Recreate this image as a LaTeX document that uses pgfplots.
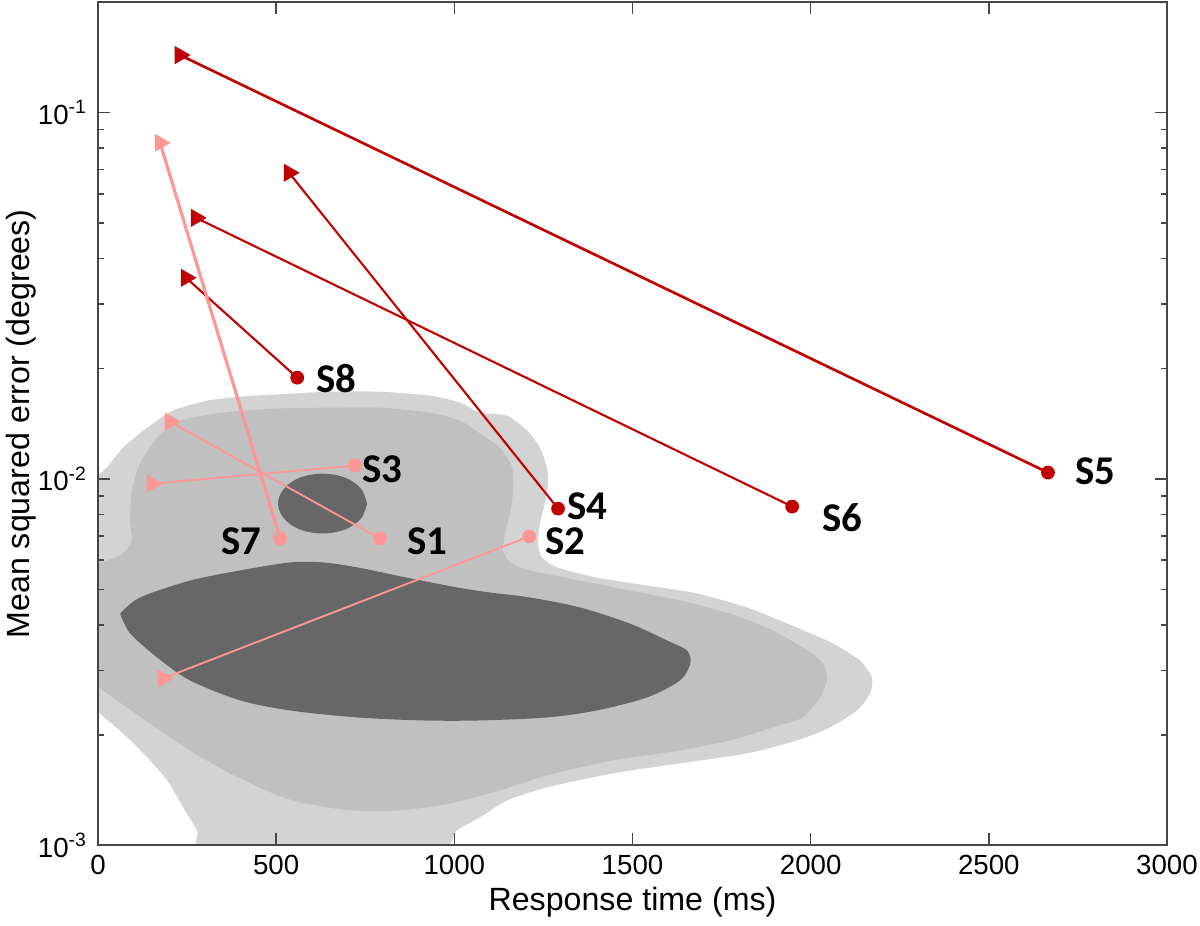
\documentclass[border=0pt]{standalone}
\usepackage{fontspec}
\setmainfont{Liberation Sans}
\newfontfamily\labelfont{Carlito}
\usepackage{pgfplots}
\pgfplotsset{compat=1.18}

\definecolor{darkred}{RGB}{192,0,0}
\definecolor{pinkred}{RGB}{255,150,150}
\definecolor{cLight}{RGB}{211,211,211}
\definecolor{cMid}{RGB}{192,192,192}
\definecolor{cDark}{RGB}{103,103,103}
\definecolor{axisgray}{RGB}{70,70,70}

\begin{document}
\begin{tikzpicture}
\begin{axis}[
    scale only axis, width=14.25cm, height=11.24cm,
    xmin=0, xmax=3000, ymode=log, ymin=1e-3, ymax=0.2,
    xtick={0,500,...,3000},
    ytick={0.001,0.01,0.1},
    yticklabels={10\textsuperscript{-3},10\textsuperscript{-2},10\textsuperscript{-1}},
    tick align=inside,
    major tick length=0.16cm, minor tick length=0.08cm,
    axis line style={axisgray, line width=0.7pt},
    every tick/.style={axisgray, line width=0.6pt},
    /pgf/number format/assume math mode=true,
    /pgf/number format/1000 sep={},
    ticklabel style={font=\fontsize{10.5}{12}\selectfont},
    yticklabel style={xshift=-0.02cm},
    xlabel={Response time (ms)}, ylabel={Mean squared error (degrees)},
    every axis x label/.style={at={(axis description cs:0.5,0)}, anchor=center, yshift=-0.76cm},
    every axis y label/.style={at={(axis description cs:0,0.5)}, xshift=-1.03cm, rotate=90, anchor=center},
    label style={font=\fontsize{12.2}{14}\selectfont},
    axis on top,
]
% density contours
\addplot[fill=cLight, draw=none, smooth, tension=0.4] coordinates {
(-20,0.00990)(25,0.01074)(70,0.01218)(138,0.01381)(210,0.01537)(306,0.01636)
(399,0.01678)(539,0.01710)(651,0.01731)(791,0.01731)(932,0.01688)(1016,0.01615)
(1072,0.01517)(1148,0.01489)(1204,0.01355)(1240,0.01218)(1260,0.01074)(1263,0.00972)
(1254,0.00857)(1240,0.00756)(1235,0.00666)(1246,0.00611)(1288,0.00574)(1400,0.00538)
(1541,0.00512)(1681,0.00487)(1821,0.00446)(1962,0.00393)(2063,0.003557)(2138,0.003197)
(2172,0.002873)(2167,0.002600)(2130,0.002335)(2054,0.002099)(1962,0.001935)(1821,0.001783)
(1633,0.001675)(1445,0.001573)(1260,0.001440)(1148,0.001327)(1072,0.001193)(1007,0.001100)
(930,0.00095)(320,0.00095)(278,0.001100)(239,0.001270)(194,0.001505)(138,0.001739)
(70,0.002022)(-20,0.00240)
};
\addplot[fill=cMid, draw=none, smooth, tension=0.4] coordinates {
(-20,0.00586)(25,0.00599)(70,0.00626)(95,0.00679)(90,0.00770)(95,0.00930)
(118,0.01102)(166,0.01297)(230,0.01443)(351,0.01517)(491,0.01556)(631,0.01565)
(791,0.01565)(932,0.01517)(1016,0.01443)(1072,0.01330)(1128,0.01218)(1162,0.01074)
(1165,0.00930)(1156,0.00804)(1142,0.00710)(1137,0.00638)(1156,0.00592)(1212,0.00563)
(1353,0.00528)(1493,0.00496)(1633,0.00466)(1774,0.00429)(1894,0.00386)(1990,0.003404)
(2035,0.003137)(2046,0.002820)(2026,0.002535)(1978,0.002235)(1894,0.002099)(1774,0.001935)
(1633,0.001816)(1445,0.001707)(1260,0.001553)(1128,0.001413)(988,0.001302)(848,0.001246)
(707,0.001246)(567,0.001311)(491,0.001387)(370,0.001573)(258,0.001816)(146,0.002153)
(53,0.002488)(-20,0.00280)
};
\addplot[fill=cDark, draw=none, smooth, tension=0.5] coordinates {
(62,0.00429)(118,0.00475)(258,0.00528)(399,0.00563)(539,0.00592)(631,0.00592)
(727,0.00574)(867,0.00538)(1007,0.00506)(1100,0.00490)(1212,0.00475)(1353,0.00446)
(1493,0.00403)(1597,0.003625)(1653,0.003404)(1662,0.003137)(1633,0.002820)(1541,0.002535)
(1400,0.002335)(1260,0.002235)(1072,0.002193)(912,0.002193)(727,0.002235)(539,0.002335)
(399,0.002488)(258,0.002820)(166,0.003258)(90,0.00379)(62,0.00429)
};
\addplot[fill=cDark, draw=none, smooth, tension=0.6] coordinates {
(755,0.00857)(738,0.00941)(693,0.01009)(630,0.01034)(567,0.01009)(522,0.00941)
(505,0.00857)(522,0.00780)(567,0.00728)(630,0.00710)(693,0.00728)(738,0.00780)(755,0.00857)
};

% subjects: dark red
\addplot[darkred, line width=1pt] coordinates {(230,0.1435)(2666,0.01041)};   % S5
\addplot[darkred, line width=0.8pt] coordinates {(275,0.0516)(1948,0.00841)}; % S6
\addplot[darkred, line width=0.8pt] coordinates {(536,0.0685)(1291,0.0083)};  % S4
\addplot[darkred, line width=0.8pt] coordinates {(247,0.0354)(559,0.0189)};   % S8
% subjects: pink
\addplot[pinkred, line width=1.2pt] coordinates {(174,0.0827)(511,0.00688)};  % S7
\addplot[pinkred, line width=0.7pt] coordinates {(202,0.01434)(791,0.00688)}; % S1
\addplot[pinkred, line width=0.7pt] coordinates {(152,0.00971)(721,0.01088)}; % S3
\addplot[pinkred, line width=0.7pt] coordinates {(182,0.002855)(1210,0.00697)}; % S2

\addplot[only marks, mark=triangle*, mark size=3.6pt, color=darkred,
  mark options={rotate=-90}] coordinates {(230,0.1435)(275,0.0516)(536,0.0685)(247,0.0354)};
\addplot[only marks, mark=*, mark size=2.4pt, color=darkred]
  coordinates {(2666,0.01041)(1948,0.00841)(1291,0.0083)(559,0.0189)};
\addplot[only marks, mark=triangle*, mark size=3.6pt, color=pinkred,
  mark options={rotate=-90}] coordinates {(174,0.0827)(202,0.01434)(152,0.00971)(182,0.002855)};
\addplot[only marks, mark=*, mark size=2.4pt, color=pinkred]
  coordinates {(511,0.00688)(791,0.00688)(721,0.01088)(1210,0.00697)};

\begin{scope}[every node/.style={inner sep=0pt, font=\fontsize{15.5}{15.5}\selectfont\labelfont\bfseries}]
\node[anchor=west] at (axis cs:2742,0.01048) {S5};
\node[anchor=west] at (axis cs:2032,0.00785) {S6};
\node[anchor=west] at (axis cs:1316,0.00841) {S4};
\node[anchor=west] at (axis cs:612,0.01878) {S8};
\node[anchor=west] at (axis cs:741,0.01061) {S3};
\node[anchor=east] at (axis cs:460,0.00675) {S7};
\node[anchor=west] at (axis cs:867,0.00675) {S1};
\node[anchor=west] at (axis cs:1254,0.00675) {S2};
\end{scope}
\end{axis}
\path (current axis.south west) ++(-1.307cm,-1.067cm) coordinate (bbl);
\path (current axis.north east) ++(0.44cm,0.03cm) coordinate (btr);
\pgfresetboundingbox
\path (bbl) rectangle (btr);
\end{tikzpicture}
\end{document}
